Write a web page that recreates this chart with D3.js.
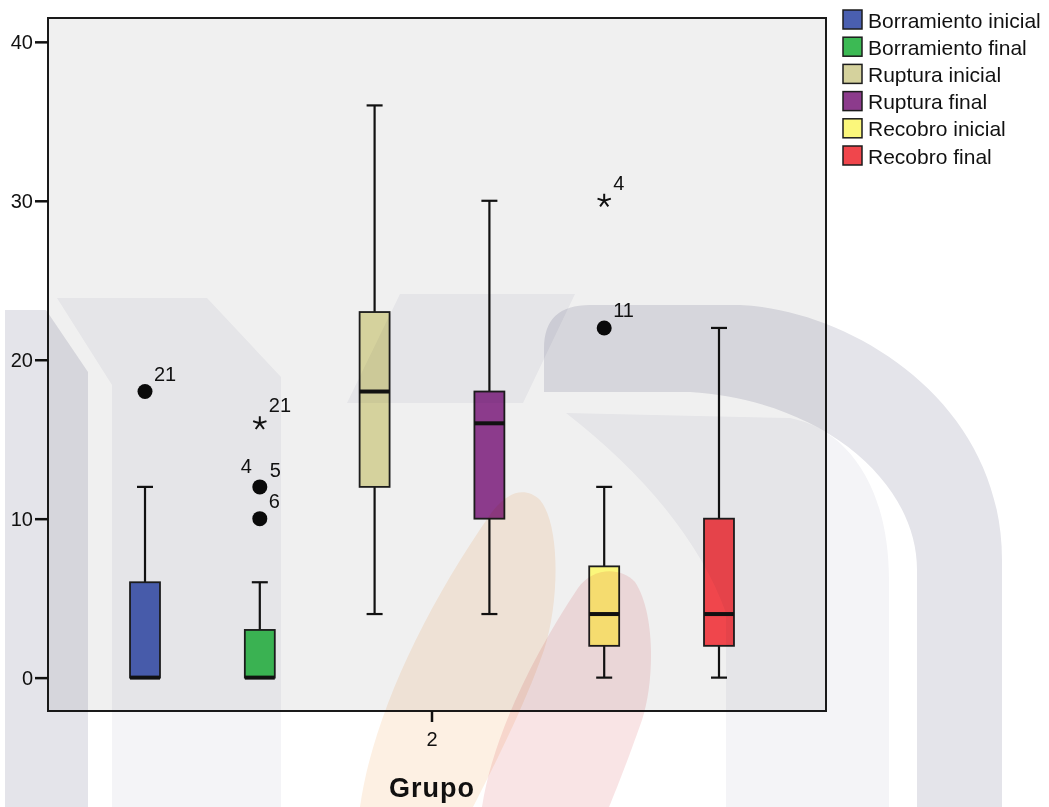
<!DOCTYPE html>
<html>
<head>
<meta charset="utf-8">
<script src="https://cdn.jsdelivr.net/npm/d3@7/dist/d3.min.js"></script>
<style>
  html, body { margin: 0; padding: 0; background: #ffffff; }
  svg { display: block; font-family: "Liberation Sans", Arial, sans-serif; }
  .wm path { mix-blend-mode: multiply; }
</style>
</head>
<body>
<svg id="chart" width="1049" height="807"></svg>
<script>
// Grouping variable on the x axis
const categories = ["2"];

// One box per measurement
const series = [
  "Borramiento inicial", "Borramiento final",
  "Ruptura inicial", "Ruptura final",
  "Recobro inicial", "Recobro final"
];
const seriesColors = ["#4a5fb0", "#3cba54", "#d5d29d", "#8c3b8c", "#fbf77b", "#f0464c"];

// Five-number summaries per series
const whiskerLow  = [0, 0, 4, 4, 0, 0];
const quartile1   = [0, 0, 12, 10, 2, 2];
const medians     = [0, 0, 18, 16, 4, 4];
const quartile3   = [6, 3, 23, 18, 7, 10];
const whiskerHigh = [12, 6, 36, 30, 12, 22];

// Outliers (circle) and extreme values (star) with their case numbers
const outlierSeries = [0, 1, 1, 1, 4, 4];
const outlierValues = [18, 16, 12, 10, 30, 22];
const outlierKinds  = ["circle", "star", "circle", "circle", "star", "circle"];
const outlierCases  = [["21"], ["21"], ["4", "5"], ["6"], ["4"], ["11"]];

const yTicks = [0, 10, 20, 30, 40];
const xTitle = "Grupo";

const svg = d3.select("#chart");
const frame = { left: 48, top: 18, right: 826, bottom: 711 };

svg.append("rect").attr("width", 1049).attr("height", 807).attr("fill", "#ffffff");

const y = d3.scaleLinear().domain([-2.1, 41.5]).range([frame.bottom, frame.top]);
const xOuter = d3.scaleBand().domain(categories).range([frame.left, 816]);
const xInner = d3.scaleBand().domain(series)
  .range([0, xOuter.bandwidth()])
  .paddingInner(0.739).paddingOuter(0.7145);

// plot background
svg.append("rect")
  .attr("x", frame.left).attr("y", frame.top)
  .attr("width", frame.right - frame.left).attr("height", frame.bottom - frame.top)
  .attr("fill", "#f0f0f0");

const plot = svg.append("g");
const bw = xInner.bandwidth();
const capW = 16;

series.forEach((s, i) => {
  const cx = xOuter(categories[0]) + xInner(s) + bw / 2;
  const g = plot.append("g");
  // whiskers
  g.append("line").attr("x1", cx).attr("x2", cx)
    .attr("y1", y(whiskerHigh[i])).attr("y2", y(quartile3[i]))
    .attr("stroke", "#111").attr("stroke-width", 2.2);
  g.append("line").attr("x1", cx).attr("x2", cx)
    .attr("y1", y(quartile1[i])).attr("y2", y(whiskerLow[i]))
    .attr("stroke", "#111").attr("stroke-width", 2.2);
  [whiskerHigh[i], whiskerLow[i]].forEach(v => {
    g.append("line").attr("x1", cx - capW / 2).attr("x2", cx + capW / 2)
      .attr("y1", y(v)).attr("y2", y(v))
      .attr("stroke", "#111").attr("stroke-width", 2.2);
  });
  // box
  g.append("rect")
    .attr("x", cx - bw / 2).attr("y", y(quartile3[i]))
    .attr("width", bw).attr("height", y(quartile1[i]) - y(quartile3[i]))
    .attr("fill", seriesColors[i]).attr("stroke", "#1c1c1c").attr("stroke-width", 1.8);
  // median
  g.append("line").attr("x1", cx - bw / 2).attr("x2", cx + bw / 2)
    .attr("y1", y(medians[i])).attr("y2", y(medians[i]))
    .attr("stroke", "#111").attr("stroke-width", 4);
});

// asterisk with five arms
function starPath(r) {
  let p = "";
  for (let k = 0; k < 5; k++) {
    const a = -Math.PI / 2 + k * 2 * Math.PI / 5;
    p += `M0,0L${(r * Math.cos(a)).toFixed(2)},${(r * Math.sin(a)).toFixed(2)}`;
  }
  return p;
}

outlierValues.forEach((v, j) => {
  const s = series[outlierSeries[j]];
  const cx = xOuter(categories[0]) + xInner(s) + bw / 2;
  const cy = y(v);
  if (outlierKinds[j] === "circle") {
    plot.append("circle").attr("cx", cx).attr("cy", cy).attr("r", 7.5).attr("fill", "#0a0a0a");
  } else {
    plot.append("path").attr("d", starPath(7))
      .attr("transform", `translate(${cx},${cy})`)
      .attr("fill", "none").attr("stroke", "#111").attr("stroke-width", 2);
  }
  const cases = outlierCases[j];
  if (cases.length === 1) {
    plot.append("text").attr("x", cx + 9).attr("y", cy - 11)
      .attr("font-size", 20).attr("fill", "#111").text(cases[0]);
  } else {
    plot.append("text").attr("x", cx - 8).attr("y", cy - 14)
      .attr("text-anchor", "end").attr("font-size", 20).attr("fill", "#111").text(cases[0]);
    plot.append("text").attr("x", cx + 10).attr("y", cy - 10)
      .attr("font-size", 20).attr("fill", "#111").text(cases[1]);
  }
});

// frame
svg.append("rect")
  .attr("x", frame.left).attr("y", frame.top)
  .attr("width", frame.right - frame.left).attr("height", frame.bottom - frame.top)
  .attr("fill", "none").attr("stroke", "#1a1a1a").attr("stroke-width", 2);

// y axis
const yAxis = svg.append("g")
  .attr("transform", `translate(${frame.left},0)`)
  .call(d3.axisLeft(y).tickValues(yTicks).tickSize(13).tickPadding(2));
yAxis.select(".domain").remove();
yAxis.selectAll(".tick line").attr("stroke", "#111").attr("stroke-width", 2.5);
yAxis.selectAll(".tick text").attr("font-size", 20).attr("fill", "#111")
  .attr("font-family", "Liberation Sans, Arial, sans-serif");

// x axis
const xAxis = svg.append("g")
  .attr("transform", `translate(0,${frame.bottom})`)
  .call(d3.axisBottom(xOuter).tickSize(11).tickPadding(10));
xAxis.select(".domain").remove();
xAxis.selectAll(".tick line").attr("stroke", "#111").attr("stroke-width", 2.5);
xAxis.selectAll(".tick text").attr("font-size", 20).attr("fill", "#111")
  .attr("font-family", "Liberation Sans, Arial, sans-serif");

svg.append("text")
  .attr("x", xOuter(categories[0]) + xOuter.bandwidth() / 2).attr("y", 797)
  .attr("text-anchor", "middle").attr("font-size", 27).attr("font-weight", "bold")
  .attr("letter-spacing", 1).attr("fill", "#111").text(xTitle);

// legend
const legend = svg.append("g").attr("transform", "translate(843,10)");
series.forEach((s, i) => {
  const row = legend.append("g").attr("transform", `translate(0,${i * 27.2})`);
  row.append("rect").attr("x", 0).attr("y", 0).attr("width", 19).attr("height", 19)
    .attr("fill", seriesColors[i]).attr("stroke", "#1c1c1c").attr("stroke-width", 1.5);
  row.append("text").attr("x", 25).attr("y", 10).attr("dy", "0.36em")
    .attr("font-size", 21).attr("fill", "#111").text(s);
});

// faint emblem printed across the page
const wm = svg.append("g").attr("class", "wm");
const wmShapes = [
  { d: "M5,310 L46,310 L88,372 L88,807 L5,807 Z", fill: "#e4e4ea" },
  { d: "M57,298 L207,298 L281,377 L281,807 L112,807 L112,385 Z", fill: "#f4f4f7" },
  { d: "M400,294 L575,294 L523,403 L347,403 Z", fill: "#f4f4f7" },
  { d: "M544,392 L544,348 Q544,305 590,305 L740,305 C850,310 1002,400 1002,560 L1002,807 L917,807 L917,570 C917,480 820,400 690,392 Z", fill: "#e4e4ea" },
  { d: "M566,413 L790,418 C850,430 889,490 889,580 L889,807 L726,807 L726,613 C700,540 640,470 566,413 Z", fill: "#f4f4f7" },
  { d: "M360,807 C372,720 422,612 492,512 C507,492 525,486 540,500 C560,524 560,600 544,650 C525,705 492,770 473,807 Z", fill: "#fdf0e3" },
  { d: "M482,807 C492,740 530,660 578,588 C592,568 620,566 635,582 C655,612 655,680 642,720 C628,760 616,790 609,807 Z", fill: "#f9e4e5" }
];
wm.selectAll("path").data(wmShapes).join("path")
  .attr("d", d => d.d).attr("fill", d => d.fill);
</script>
</body>
</html>
